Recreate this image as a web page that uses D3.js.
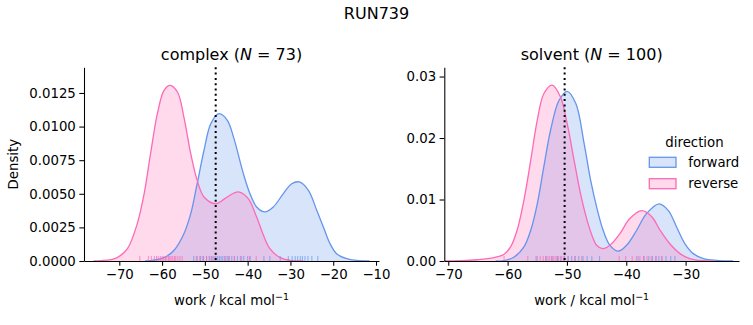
<!DOCTYPE html>
<html><head><meta charset="utf-8">
<script src="https://cdn.jsdelivr.net/npm/d3@7"></script>
<style>body{margin:0;background:#fff}svg{display:block;font-family:"DejaVu Sans",sans-serif}</style>
</head><body><svg id="c" width="753" height="325"></svg>
<script>
const suptitle = "RUN739";
const directions = ["forward", "reverse"];
const colors = {forward: "#6495ED", reverse: "#FF69B4"};

// complex panel: KDE curves [work, density]
const complexForward = [[-64,0],[-62.7,0.00003],[-59.55,0.00025],[-57.2,0.0008],[-54.9,0.00203],[-53.3,0.00352],[-51.8,0.00575],[-50.2,0.00824],[-48.6,0.01022],[-46.7,0.01096],[-44.75,0.01047],[-43.2,0.0091],[-41.0,0.0065],[-39.45,0.0050],[-37.9,0.00402],[-35.95,0.00365],[-34.0,0.00402],[-31.7,0.0050],[-29.7,0.00575],[-27.9,0.00588],[-25.8,0.00526],[-23.85,0.00377],[-22.3,0.00253],[-20.75,0.00129],[-19.2,0.00054],[-16.85,0.00017],[-14.5,0.00004],[-11.5,0]];
const complexReverse = [[-76,0],[-74.3,0.00003],[-72,0.0001],[-70.5,0.00025],[-68.1,0.00092],[-65.8,0.00278],[-64.2,0.0050],[-62.7,0.00798],[-61.1,0.01096],[-59.55,0.0127],[-58.15,0.01307],[-56.4,0.01257],[-54.9,0.01071],[-53.3,0.00798],[-51.8,0.0060],[-50.2,0.00476],[-47.5,0.00426],[-45.5,0.0046],[-43.2,0.00506],[-41.95,0.00513],[-39.85,0.00464],[-37.9,0.00327],[-36.3,0.00191],[-34.8,0.00092],[-32.4,0.00025],[-30.1,0.00005],[-27,0]];
const complexRugForward = [-52.6,-51.8,-51.0,-50.3,-49.6,-49.0,-48.4,-47.9,-47.4,-47.0,-46.6,-46.2,-45.8,-45.3,-44.8,-44.3,-43.7,-43.1,-42.4,-41.7,-40.9,-40.0,-39.4,-36.2,-34.8,-32.4,-30.5,-29.6,-28.9,-28.3,-27.7,-27.2,-26.6,-25.9,-25.0,-23.6];
const complexRugReverse = [-65.2,-63.2,-62.5,-61.8,-61.3,-60.9,-60.4,-60.0,-59.6,-59.2,-58.9,-58.5,-58.2,-57.9,-57.5,-57.1,-56.8,-56.3,-55.8,-55.3,-52.0,-51.2,-50.5,-49.6,-48.8,-48.3,-47.6,-45.3,-44.5,-43.1,-41.4,-39.6,-38.0];
const complexMean = -47.47;

// solvent panel
const solventForward = [[-62,0],[-60.6,0.00005],[-58.9,0.00065],[-57.25,0.0023],[-56.1,0.005],[-55.0,0.0093],[-53.9,0.0153],[-52.75,0.0213],[-51.35,0.0261],[-49.95,0.0276],[-48.5,0.0256],[-47.1,0.0191],[-46.0,0.0131],[-45.0,0.0088],[-43.9,0.005],[-42.75,0.00255],[-41.35,0.0016],[-39.95,0.00255],[-38.25,0.005],[-36.6,0.0077],[-34.45,0.0093],[-32.9,0.0082],[-31.5,0.0055],[-30.1,0.0028],[-28.7,0.0012],[-27.0,0.0004],[-24.8,0.0001],[-22,0]];
const solventReverse = [[-70.6,0.00002],[-68,0.00006],[-65.1,0.0002],[-62.3,0.00054],[-60.6,0.0011],[-59.5,0.0023],[-58.4,0.005],[-57.25,0.0099],[-56.1,0.0164],[-55.0,0.0229],[-53.9,0.0272],[-52.5,0.0286],[-51.1,0.0267],[-49.95,0.0223],[-48.8,0.0164],[-47.7,0.0109],[-46.6,0.0066],[-45.6,0.0037],[-45.0,0.00255],[-44.0,0.002],[-42.75,0.00255],[-41.1,0.0044],[-39.4,0.0069],[-37.4,0.0082],[-35.7,0.0072],[-34.3,0.005],[-32.65,0.0028],[-30.95,0.0012],[-29.3,0.0004],[-27.0,0.00005],[-25,0]];
const solventRugForward = [-55.2,-53.5,-52.5,-51.6,-51.0,-50.4,-49.8,-49.2,-48.6,-48.0,-47.3,-46.6,-45.8,-44.5,-38.0,-37.0,-36.2,-35.6,-35.0,-34.5,-34.0,-33.3,-32.5,-31.8];
const solventRugReverse = [-60.6,-56.6,-55.0,-54.5,-54.0,-53.6,-53.2,-52.9,-52.6,-52.3,-52.0,-51.7,-51.4,-51.0,-50.6,-49.8,-48.7,-47.5,-41.2,-40.1,-39.0,-38.3,-37.7,-37.1,-36.5,-35.8,-35.0,-34.0];
const solventMean = -50.39;

const complexXTicks = [-70,-60,-50,-40,-30,-20,-10];
const complexYTicks = [0,0.0025,0.005,0.0075,0.01,0.0125];
const solventXTicks = [-70,-60,-50,-40,-30];
const solventYTicks = [0,0.01,0.02,0.03];

const panels = [
  {name:"complex", n:73, left:84, right:379, xdom:[-78.25,-9.3], ydom:[0,0.01441], xt:complexXTicks, yt:complexYTicks, yf:d3.format(".4f"),
   curves:{forward:complexForward, reverse:complexReverse}, rug:{forward:complexRugForward, reverse:complexRugReverse}, mean:complexMean, ylabel:true},
  {name:"solvent", n:100, left:444.3, right:739, xdom:[-70.67,-21.0], ydom:[0,0.0315], xt:solventXTicks, yt:solventYTicks, yf:d3.format(".2f"),
   curves:{forward:solventForward, reverse:solventReverse}, rug:{forward:solventRugForward, reverse:solventRugReverse}, mean:solventMean, ylabel:false}
];
const axTop = 67.3, axBottom = 261;
const svg = d3.select("#c");
svg.append("text").attr("x",376.5).attr("y",19).attr("text-anchor","middle").attr("font-size",16).text(suptitle);

panels.forEach(p => {
  const x = d3.scaleLinear().domain(p.xdom).range([p.left,p.right]);
  const y = d3.scaleLinear().domain(p.ydom).range([axBottom,axTop]);
  const g = svg.append("g");
  const curve = d3.curveCatmullRom.alpha(0.5);
  const area = d3.area().x(d=>x(d[0])).y0(y(0)).y1(d=>Math.min(y(d[1]),axBottom)).curve(curve);
  const line = d3.line().x(d=>x(d[0])).y(d=>y(d[1])).curve(curve);
  directions.forEach(k => {
    g.append("path").attr("d",area(p.curves[k])).attr("fill",colors[k]).attr("fill-opacity",0.25);
  });
  directions.forEach(k => {
    g.append("path").attr("d",line(p.curves[k])).attr("fill","none").attr("stroke",colors[k]).attr("stroke-width",1.3);
  });
  directions.forEach(k => {
    g.selectAll(null).data(p.rug[k]).enter().append("line")
      .attr("x1",d=>x(d)).attr("x2",d=>x(d)).attr("y1",axBottom).attr("y2",axBottom-5)
      .attr("stroke",colors[k]).attr("stroke-opacity",0.7).attr("stroke-width",1);
  });
  g.append("line").attr("x1",x(p.mean)).attr("x2",x(p.mean)).attr("y1",axTop).attr("y2",axBottom)
    .attr("stroke","#000").attr("stroke-width",2).attr("stroke-dasharray","2,3.3");
  const xa = g.append("g").attr("transform",`translate(0,${axBottom})`)
    .call(d3.axisBottom(x).tickValues(p.xt).tickSize(4.7).tickPadding(3.5).tickSizeOuter(0));
  const ya = g.append("g").attr("transform",`translate(${p.left},0)`)
    .call(d3.axisLeft(y).tickValues(p.yt).tickFormat(p.yf).tickSize(4.7).tickPadding(3.5).tickSizeOuter(0));
  [xa,ya].forEach(a=>{
    a.selectAll("text").attr("font-size",13.3).attr("font-family","DejaVu Sans").attr("fill","#000");
    a.selectAll("line").attr("stroke","#000").attr("stroke-width",1.07);
    a.select(".domain").attr("stroke","#000").attr("stroke-width",1.07);
  });
  const cx = (p.left+p.right)/2;
  const t = g.append("text").attr("x",cx).attr("y",60).attr("text-anchor","middle").attr("font-size",16);
  t.append("tspan").text(p.name+" (");
  t.append("tspan").attr("font-style","italic").text("N");
  t.append("tspan").text(" = "+p.n+")");
  const xl = g.append("text").attr("x",cx).attr("y",305).attr("text-anchor","middle").attr("font-size",13.3);
  xl.append("tspan").text("work / kcal mol");
  xl.append("tspan").attr("font-size",9.5).attr("dy",-5).text("\u22121");
  if (p.ylabel) {
    g.append("text").attr("transform",`translate(18,${(axTop+axBottom)/2}) rotate(-90)`).attr("text-anchor","middle").attr("font-size",13.3).text("Density");
  }
});

// legend
const lg = svg.append("g");
lg.append("text").attr("x",694.5).attr("y",146.5).attr("text-anchor","middle").attr("font-size",13.3).text("direction");
directions.forEach((k,i)=>{
  const yy = 157.3 + i*21.4;
  lg.append("rect").attr("x",649.3).attr("y",yy).attr("width",26.7).attr("height",10)
    .attr("fill",colors[k]).attr("fill-opacity",0.25).attr("stroke",colors[k]).attr("stroke-width",1.3);
  lg.append("text").attr("x",688.3).attr("y",yy+9.5).attr("font-size",13.3).text(k);
});
</script></body></html>
